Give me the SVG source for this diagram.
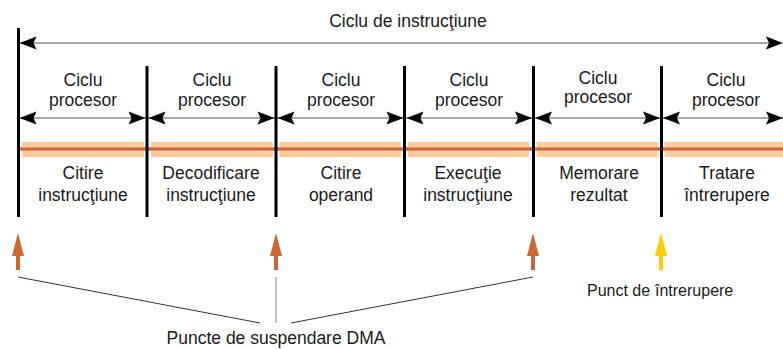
<svg xmlns="http://www.w3.org/2000/svg" xmlns:xlink="http://www.w3.org/1999/xlink" width="783" height="349" viewBox="0 0 783 349">
<style>
text{font-family:"Liberation Sans",Arial,sans-serif;font-size:17.5px;fill:#1a1a1a;text-anchor:middle}
.vl{stroke:#000;stroke-width:3}
.dim{stroke:#555;stroke-width:1.2;fill:none}
.band{fill:#FDCB9C}
.core{stroke:#C9683A;stroke-width:3}
.ptr{stroke:#333;stroke-width:1;fill:none}
.or{fill:#CC6633}
.ye{fill:#FFCC00}
</style>
<defs>
<path id="ah" d="M0,0 L17,-6.5 L14,0 L17,6.5 Z" fill="#000"/>
<g id="upArrow"><rect x="-2" y="253" width="4" height="17"/><path d="M0,233 L-6,256 L6,256 Z"/></g>
</defs>
<g id="bands">
<line class="core" x1="20" y1="149" x2="783" y2="149"/>
<rect class="band" x="22" y="142" width="122" height="15"/>
<rect class="band" x="151" y="142" width="122" height="15"/>
<rect class="band" x="279.5" y="142" width="121.5" height="15"/>
<rect class="band" x="408" y="142" width="121" height="15"/>
<rect class="band" x="536.5" y="142" width="122" height="15"/>
<rect class="band" x="664.5" y="142" width="119" height="15"/>
<line class="core" x1="20" y1="149" x2="783" y2="149"/>
</g>
<g id="connectors">
<line class="dim" x1="20" y1="43" x2="775" y2="43"/>
<use xlink:href="#ah" transform="translate(19.5,43)"/>
<use xlink:href="#ah" transform="translate(783,43) scale(-1,1)"/>
<line class="dim" x1="20" y1="118" x2="783" y2="118"/>
<use xlink:href="#ah" transform="translate(19.5,118)"/>
<use xlink:href="#ah" transform="translate(145.5,118) scale(-1,1)"/>
<use xlink:href="#ah" transform="translate(148.5,118)"/>
<use xlink:href="#ah" transform="translate(274.5,118) scale(-1,1)"/>
<use xlink:href="#ah" transform="translate(277.5,118)"/>
<use xlink:href="#ah" transform="translate(403.5,118) scale(-1,1)"/>
<use xlink:href="#ah" transform="translate(406.5,118)"/>
<use xlink:href="#ah" transform="translate(532,118) scale(-1,1)"/>
<use xlink:href="#ah" transform="translate(535,118)"/>
<use xlink:href="#ah" transform="translate(660,118) scale(-1,1)"/>
<use xlink:href="#ah" transform="translate(663,118)"/>
<use xlink:href="#ah" transform="translate(783,118) scale(-1,1)"/>
<line class="ptr" x1="18" y1="277" x2="260" y2="323"/>
<line x1="276" y1="277" x2="276" y2="323" stroke="#999" stroke-width="1.2"/>
<line class="ptr" x1="291" y1="323" x2="533" y2="277"/>
</g>
<g id="dividers">
<line class="vl" x1="18.5" y1="28" x2="18.5" y2="217"/>
<line class="vl" x1="147" y1="66" x2="147" y2="217"/>
<line class="vl" x1="276" y1="66" x2="276" y2="217"/>
<line class="vl" x1="404.5" y1="66" x2="404.5" y2="217"/>
<line class="vl" x1="533.5" y1="66" x2="533.5" y2="217"/>
<line class="vl" x1="661.5" y1="66" x2="661.5" y2="217"/>
</g>
<g id="title"><text x="408" y="27">Ciclu de instrucţiune</text></g>
<g id="seg1"><text x="83" y="86">Ciclu</text><text x="83" y="106">procesor</text><text x="83" y="179">Citire</text><text x="83" y="201">instrucţiune</text></g>
<g id="seg2"><text x="212" y="86">Ciclu</text><text x="212" y="106">procesor</text><text x="211" y="179">Decodificare</text><text x="211" y="201">instrucţiune</text></g>
<g id="seg3"><text x="341" y="86">Ciclu</text><text x="341" y="106">procesor</text><text x="341" y="179">Citire</text><text x="341" y="201">operand</text></g>
<g id="seg4"><text x="469" y="86">Ciclu</text><text x="469" y="106">procesor</text><text x="468" y="179">Execuţie</text><text x="468" y="201">instrucţiune</text></g>
<g id="seg5"><text x="598" y="84">Ciclu</text><text x="598" y="103">procesor</text><text x="599" y="179">Memorare</text><text x="599" y="201">rezultat</text></g>
<g id="seg6"><text x="726" y="86">Ciclu</text><text x="726" y="106">procesor</text><text x="727" y="179">Tratare</text><text x="727" y="201">întrerupere</text></g>
<g id="dma-arrows">
<use xlink:href="#upArrow" class="or" transform="translate(18,0)"/>
<use xlink:href="#upArrow" class="or" transform="translate(276,0)"/>
<use xlink:href="#upArrow" class="or" transform="translate(533,0)"/>
</g>
<g id="int-arrow"><use xlink:href="#upArrow" class="ye" transform="translate(661,0)"/></g>
<g id="dma-label"><text x="276" y="344">Puncte de suspendare DMA</text></g>
<g id="int-label"><text style="font-size:16px;text-anchor:start" x="587" y="296">Punct de<tspan x="655">întrerupere</tspan></text></g>
</svg>
